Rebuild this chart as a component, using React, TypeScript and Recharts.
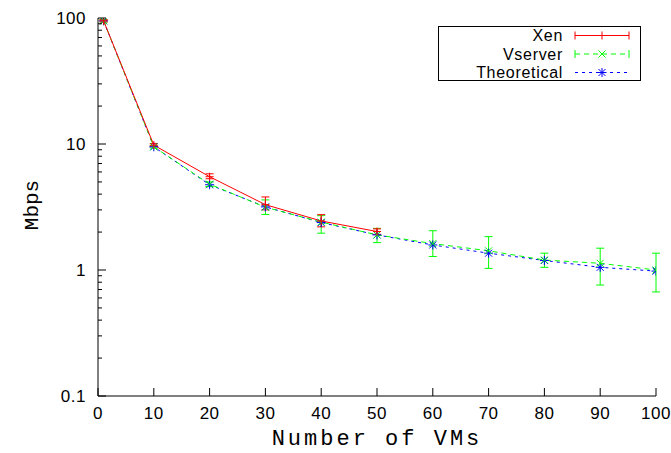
import React from "react";
import { LineChart, Line, XAxis, YAxis, ErrorBar, Legend } from "recharts";

const vms = [1, 10, 20, 30, 40, 50, 60, 70, 80, 90, 100];
const xen = [95, 9.8, 5.5, 3.3, 2.45, 2.02];
const xenLow = [93, 9.6, 5.3, 3.0, 2.2, 1.92];
const xenHigh = [97, 10.1, 5.8, 3.8, 2.75, 2.12];
const vserver = [95, 9.5, 4.8, 3.15, 2.4, 1.9, 1.62, 1.42, 1.2, 1.13, 1.0];
const vserverLow = [93, 9.3, 4.6, 2.76, 1.96, 1.65, 1.28, 1.03, 1.05, 0.76, 0.67];
const vserverHigh = [97, 9.7, 5.0, 3.6, 2.7, 2.14, 2.05, 1.84, 1.36, 1.49, 1.36];
const theoretical = [95, 9.5, 4.75, 3.17, 2.38, 1.9, 1.58, 1.36, 1.19, 1.05, 0.98];

const xTicks = [0, 10, 20, 30, 40, 50, 60, 70, 80, 90, 100];
const decades = [0.1, 1, 10, 100];
const yTicks: number[] = [];
[0.1, 1, 10].forEach((d) => {
  for (let i = 1; i < 10; i++) yTicks.push(+(d * i).toPrecision(3));
});
yTicks.push(100);

const data = vms.map((n, i) => ({
  n,
  xen: xen[i],
  xenErr: xen[i] !== undefined ? [xen[i] - xenLow[i], xenHigh[i] - xen[i]] : undefined,
  vserver: vserver[i],
  vserverErr: [vserver[i] - vserverLow[i], vserverHigh[i] - vserver[i]],
  theoretical: theoretical[i],
}));

const sans = "'Liberation Sans', Arial, sans-serif";
const mono = "'Liberation Mono', 'Courier New', monospace";
const fs = 17;
const ls = 0.5;

const isDecade = (v: number) => decades.includes(v);

const LeftTick = (props: any) => {
  const { x, y, payload } = props;
  const major = isDecade(payload.value);
  return (
    <g>
      <line x1={x} y1={y} x2={x + (major ? 8 : 4)} y2={y} stroke="#000" />
      {major && (
        <text x={x - 12} y={y + 6} textAnchor="end" fontFamily={sans} fontSize={fs} letterSpacing={ls} fill="#000">
          {payload.value}
        </text>
      )}
    </g>
  );
};

const RightTick = (props: any) => {
  const { x, y, payload } = props;
  const major = isDecade(payload.value);
  return <line x1={x} y1={y} x2={x - (major ? 8 : 4)} y2={y} stroke="#000" />;
};

const BottomTick = (props: any) => {
  const { x, y, payload } = props;
  return (
    <g>
      <line x1={x} y1={y} x2={x} y2={y - 8} stroke="#000" />
      <text x={x} y={y + 23} textAnchor="middle" fontFamily={sans} fontSize={fs} letterSpacing={ls} fill="#000">
        {payload.value}
      </text>
    </g>
  );
};

const TopTick = (props: any) => {
  const { x, y } = props;
  return <line x1={x} y1={y} x2={x} y2={y + 8} stroke="#000" />;
};

const Plus = ({ cx, cy, color, r = 4 }: any) => (
  <g stroke={color} strokeWidth={1}>
    <line x1={cx - r} y1={cy} x2={cx + r} y2={cy} />
    <line x1={cx} y1={cy - r} x2={cx} y2={cy + r} />
  </g>
);

const Cross = ({ cx, cy, color, r = 3.5 }: any) => (
  <g stroke={color} strokeWidth={1}>
    <line x1={cx - r} y1={cy - r} x2={cx + r} y2={cy + r} />
    <line x1={cx - r} y1={cy + r} x2={cx + r} y2={cy - r} />
  </g>
);

const Star = ({ cx, cy, color }: any) => (
  <g>
    <Plus cx={cx} cy={cy} color={color} r={4.5} />
    <Cross cx={cx} cy={cy} color={color} r={3.5} />
  </g>
);

const dotFor = (Shape: any, color: string) => (p: any) => {
  if (p.cx == null || p.cy == null || p.value == null) return <g key={p.index} />;
  return <Shape key={p.index} cx={p.cx} cy={p.cy} color={color} />;
};

const LegendBox = () => {
  const rows = [
    { name: "Xen", color: "#ff0000", dash: undefined, Shape: Plus, caps: true },
    { name: "Vserver", color: "#00ff00", dash: "5 4", Shape: Cross, caps: true },
    { name: "Theoretical", color: "#0000ff", dash: "3 4", Shape: Star, caps: false },
  ];
  return (
    <svg width={671} height={100} style={{ display: "block" }}>
      <rect x={438.5} y={26.5} width={202} height={54} fill="#fff" stroke="#000" />
      {rows.map((r, i) => {
        const cy = 35.5 + i * 18.5;
        return (
          <g key={r.name}>
            <text x={563} y={cy + 5.5} textAnchor="end" fontFamily={sans} fontSize={16} letterSpacing={0.7} fill="#000">
              {r.name}
            </text>
            <line x1={575} y1={cy} x2={629} y2={cy} stroke={r.color} strokeDasharray={r.dash} />
            {r.caps && (
              <g stroke={r.color}>
                <line x1={575} y1={cy - 4} x2={575} y2={cy + 4} />
                <line x1={629} y1={cy - 4} x2={629} y2={cy + 4} />
              </g>
            )}
            <r.Shape cx={602} cy={cy} color={r.color} />
          </g>
        );
      })}
    </svg>
  );
};

export default function App() {
  return (
    <div style={{ position: "absolute", left: 0, top: 0, width: 671, height: 453, background: "#fff" }}>
      <LineChart
        width={671}
        height={453}
        data={data}
        margin={{ top: 18, right: 15, bottom: 0, left: 0 }}
      >
        <XAxis
          dataKey="n"
          type="number"
          domain={[0, 100]}
          ticks={xTicks}
          interval={0}
          height={57}
          tickSize={0}
          tickMargin={0}
          tickLine={false}
          tick={<BottomTick />}
          axisLine={{ stroke: "#000" }}
          allowDataOverflow
        />
        <XAxis
          xAxisId="top"
          orientation="top"
          dataKey="n"
          type="number"
          domain={[0, 100]}
          ticks={xTicks}
          interval={0}
          height={0}
          tickSize={0}
          tickMargin={0}
          tickLine={false}
          tick={<TopTick />}
          axisLine={{ stroke: "#000" }}
          allowDataOverflow
        />
        <YAxis
          scale="log"
          type="number"
          domain={[0.1, 100]}
          ticks={yTicks}
          interval={0}
          width={98}
          tickSize={0}
          tickMargin={0}
          tickLine={false}
          tick={<LeftTick />}
          axisLine={{ stroke: "#000" }}
          allowDataOverflow
        />
        <YAxis
          yAxisId="right"
          orientation="right"
          scale="log"
          type="number"
          domain={[0.1, 100]}
          ticks={yTicks}
          interval={0}
          width={0}
          tickSize={0}
          tickMargin={0}
          tickLine={false}
          tick={<RightTick />}
          axisLine={{ stroke: "#000" }}
          allowDataOverflow
        />
        <Legend
          layout="horizontal"
          verticalAlign="middle"
          align="center"
          wrapperStyle={{ position: "absolute", left: 0, top: 0, width: 671, height: 100, pointerEvents: "none" }}
          content={() => <LegendBox />}
        />
        <Line
          dataKey="theoretical"
          stroke="#0000ff"
          strokeDasharray="3 4"
          strokeWidth={1}
          dot={dotFor(Star, "#0000ff")}
          isAnimationActive={false}
        />
        <Line
          dataKey="vserver"
          stroke="#00ff00"
          strokeDasharray="5 4"
          strokeWidth={1}
          dot={dotFor(Cross, "#00ff00")}
          isAnimationActive={false}
        >
          <ErrorBar dataKey="vserverErr" direction="y" width={4} stroke="#00ff00" strokeWidth={1} isAnimationActive={false} />
        </Line>
        <Line
          dataKey="xen"
          stroke="#ff0000"
          strokeWidth={1}
          dot={dotFor(Plus, "#ff0000")}
          isAnimationActive={false}
        >
          <ErrorBar dataKey="xenErr" direction="y" width={4} stroke="#ff0000" strokeWidth={1} isAnimationActive={false} />
        </Line>
        <text x={377} y={445} textAnchor="middle" fontFamily={mono} fontSize={22} letterSpacing={3} fill="#000">
          Number of VMs
        </text>
        <text
          x={38}
          y={205}
          textAnchor="middle"
          transform="rotate(-90 38 205)"
          fontFamily={mono}
          fontSize={21}
          fill="#000"
        >
          Mbps
        </text>
      </LineChart>
    </div>
  );
}
